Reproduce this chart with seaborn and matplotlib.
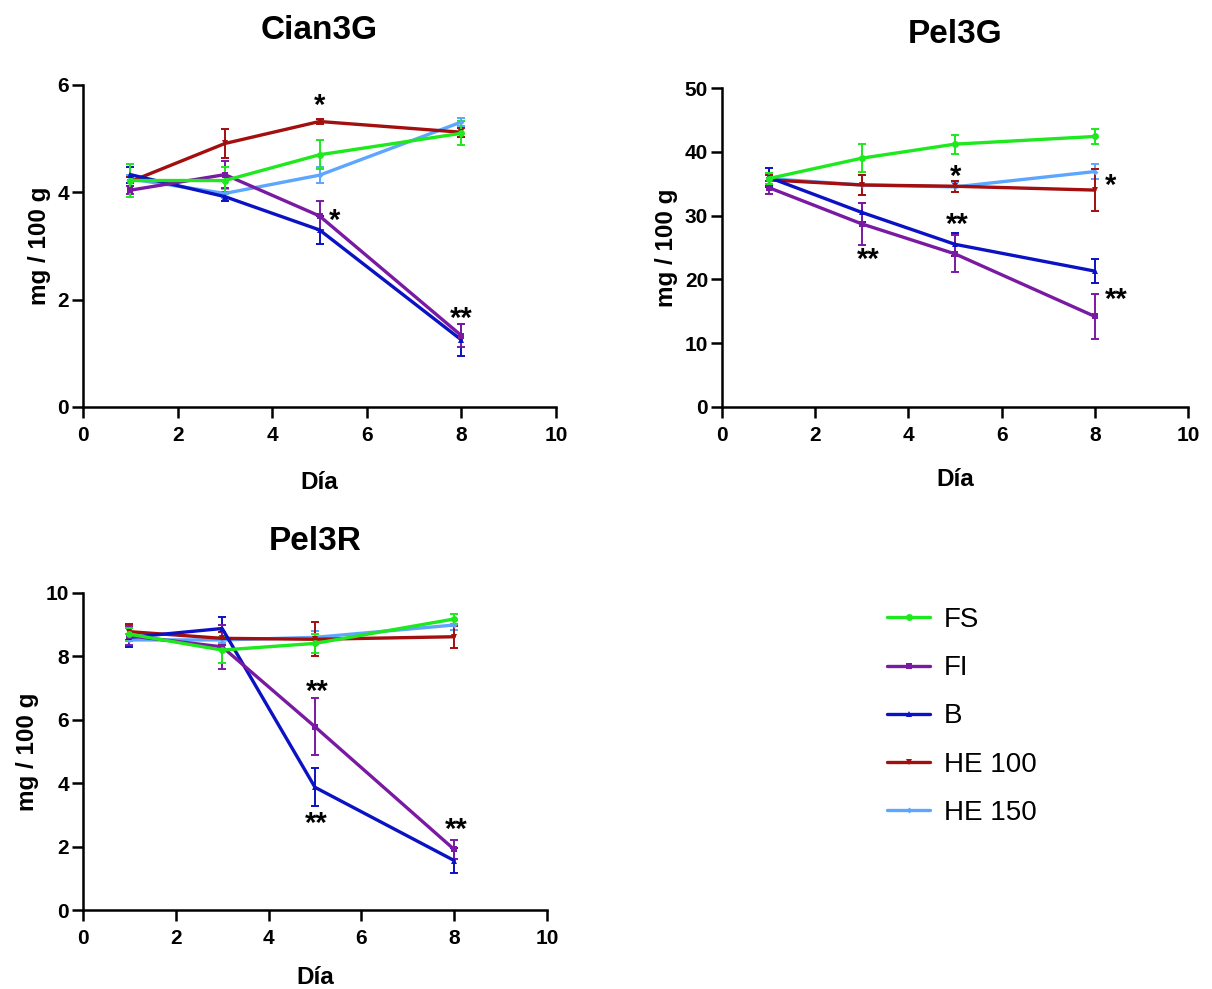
import numpy as np
import pandas as pd
import seaborn as sns
import matplotlib.pyplot as plt
from matplotlib.lines import Line2D

##########################################################################################
# Data

days = [1, 3, 5, 8]
groups = ['FS', 'FI', 'B', 'HE 100', 'HE 150']

# Cian3G
cian_fs = [4.22, 4.22, 4.70, 5.10]
cian_fs_sd = [0.30, 0.25, 0.27, 0.22]
cian_fi = [4.04, 4.33, 3.56, 1.33]
cian_fi_sd = [0.08, 0.25, 0.27, 0.22]
cian_b = [4.33, 3.92, 3.30, 1.25]
cian_b_sd = [0.15, 0.08, 0.26, 0.30]
cian_he100 = [4.20, 4.91, 5.32, 5.12]
cian_he100_sd = [0.08, 0.27, 0.05, 0.08]
cian_he150 = [4.25, 3.98, 4.32, 5.31]
cian_he150_sd = [0.08, 0.08, 0.15, 0.08]

# Pel3G
pel3g_fs = [35.8, 39.0, 41.2, 42.4]
pel3g_fs_sd = [0.8, 2.2, 1.5, 1.2]
pel3g_fi = [34.4, 28.7, 24.0, 14.2]
pel3g_fi_sd = [1.0, 3.3, 2.9, 3.5]
pel3g_b = [36.0, 30.5, 25.5, 21.3]
pel3g_b_sd = [1.5, 1.5, 1.8, 1.85]
pel3g_he100 = [35.6, 34.8, 34.6, 34.0]
pel3g_he100_sd = [0.8, 1.5, 0.9, 3.3]
pel3g_he150 = [35.8, 34.8, 34.5, 36.9]
pel3g_he150_sd = [0.8, 1.5, 0.8, 1.2]

# Pel3R
pel3r_fs = [8.70, 8.20, 8.41, 9.18]
pel3r_fs_sd = [0.20, 0.40, 0.30, 0.15]
pel3r_fi = [8.65, 8.30, 5.78, 1.91]
pel3r_fi_sd = [0.30, 0.70, 0.90, 0.30]
pel3r_b = [8.60, 8.88, 3.87, 1.56]
pel3r_b_sd = [0.30, 0.35, 0.60, 0.40]
pel3r_he100 = [8.78, 8.57, 8.54, 8.62]
pel3r_he100_sd = [0.25, 0.20, 0.54, 0.34]
pel3r_he150 = [8.52, 8.52, 8.60, 8.99]
pel3r_he150_sd = [0.20, 0.10, 0.20, 0.15]

# significance marks (x, y, text)
cian_marks = [(5.0, 5.69, '*'), (5.31, 3.54, '*'), (8.0, 1.71, '**')]
pel3g_marks = [(5.01, 36.6, '*'), (8.34, 35.3, '*'), (3.13, 23.7, '**'),
               (5.05, 29.2, '**'), (8.45, 17.4, '**')]
pel3r_marks = [(5.04, 7.0, '**'), (5.02, 2.82, '**'), (8.05, 2.66, '**')]

##########################################################################################

colors = {'FS': '#1EE81E', 'FI': '#7A1AA3', 'B': '#0A12C4', 'HE 100': '#A30E0E', 'HE 150': '#5CA6FF'}
markers = {'FS': 'o', 'FI': 's', 'B': '^', 'HE 100': 'v', 'HE 150': 'D'}
msizes = {'FS': 5, 'FI': 5, 'B': 5, 'HE 100': 5, 'HE 150': 3}

sns.set_style('ticks')
plt.rcParams['font.family'] = ['Liberation Sans', 'DejaVu Sans']
for k in ['text.color', 'axes.labelcolor', 'xtick.color', 'ytick.color', 'axes.edgecolor']:
    plt.rcParams[k] = 'black'


def make_df(means, sds):
    rows = []
    for g, m, s in zip(groups, means, sds):
        for d, v, e in zip(days, m, s):
            rows.append({'Día': d, 'valor': v, 'sd': e, 'grupo': g})
    return pd.DataFrame(rows)


def panel(ax, df, title, ymax, ystep, marks, xpad, tpad):
    # draw in reverse legend order so FS ends up on top
    for g in groups[::-1]:
        sub = df[df['grupo'] == g]
        ax.errorbar(sub['Día'], sub['valor'], yerr=sub['sd'], fmt='none',
                    ecolor=colors[g], elinewidth=1.4, capsize=3, capthick=1.4, zorder=2)
        sns.lineplot(data=sub, x='Día', y='valor', color=colors[g], marker=markers[g],
                     markersize=msizes[g], markeredgewidth=0, linewidth=2.4,
                     errorbar=None, ax=ax, zorder=3)
    for x, y, t in marks:
        ax.annotate(t, (x, y), xytext=(0, -8.5), textcoords='offset points',
                    ha='center', va='baseline', fontsize=21, fontweight='bold')
    ax.set_xlim(0, 10)
    ax.set_ylim(0, ymax)
    ax.set_xticks(np.arange(0, 11, 2))
    ax.set_yticks(np.arange(0, ymax + 0.01, ystep))
    ax.set_title(title, fontsize=24, fontweight='bold', pad=tpad)
    ax.set_xlabel('Día', fontsize=17.5, fontweight='bold', labelpad=xpad)
    ax.set_ylabel('mg / 100 g', fontsize=17.5, fontweight='bold', labelpad=5)
    for lab in ax.get_xticklabels() + ax.get_yticklabels():
        lab.set_fontweight('bold')
    ax.tick_params(labelsize=15, width=1.8, length=8, color='black')
    ax.tick_params(axis='x', pad=6)
    ax.tick_params(axis='y', pad=2)
    for sp in ['left', 'bottom']:
        ax.spines[sp].set_linewidth(1.8)
    sns.despine(ax=ax)


fig = plt.figure(figsize=(12.12, 9.89), dpi=100)
ax1 = fig.add_axes([83 / 1212, 1 - 407 / 989, 473 / 1212, 322 / 989])
ax2 = fig.add_axes([722 / 1212, 1 - 407 / 989, 466 / 1212, 319 / 989])
ax3 = fig.add_axes([83 / 1212, 1 - 910 / 989, 464 / 1212, 317 / 989])

panel(ax1, make_df([cian_fs, cian_fi, cian_b, cian_he100, cian_he150],
                   [cian_fs_sd, cian_fi_sd, cian_b_sd, cian_he100_sd, cian_he150_sd]),
      'Cian3G', 6, 2, cian_marks, 18.5, 33)
panel(ax2, make_df([pel3g_fs, pel3g_fi, pel3g_b, pel3g_he100, pel3g_he150],
                   [pel3g_fs_sd, pel3g_fi_sd, pel3g_b_sd, pel3g_he100_sd, pel3g_he150_sd]),
      'Pel3G', 50, 10, pel3g_marks, 16, 32.5)
panel(ax3, make_df([pel3r_fs, pel3r_fi, pel3r_b, pel3r_he100, pel3r_he150],
                   [pel3r_fs_sd, pel3r_fi_sd, pel3r_b_sd, pel3r_he100_sd, pel3r_he150_sd]),
      'Pel3R', 10, 2, pel3r_marks, 12.5, 31)

handles = [Line2D([], [], color=colors[g], marker=markers[g], markersize=msizes[g],
                  markeredgewidth=0, linewidth=2.4) for g in groups]
fig.legend(handles, groups, loc='upper left', bbox_to_anchor=(887 / 1212, 1 - 607 / 989),
           frameon=False, fontsize=20, handlelength=1.55, handletextpad=0.5,
           labelspacing=0.8, borderpad=0, borderaxespad=0)

plt.savefig('out.png', dpi=100)
